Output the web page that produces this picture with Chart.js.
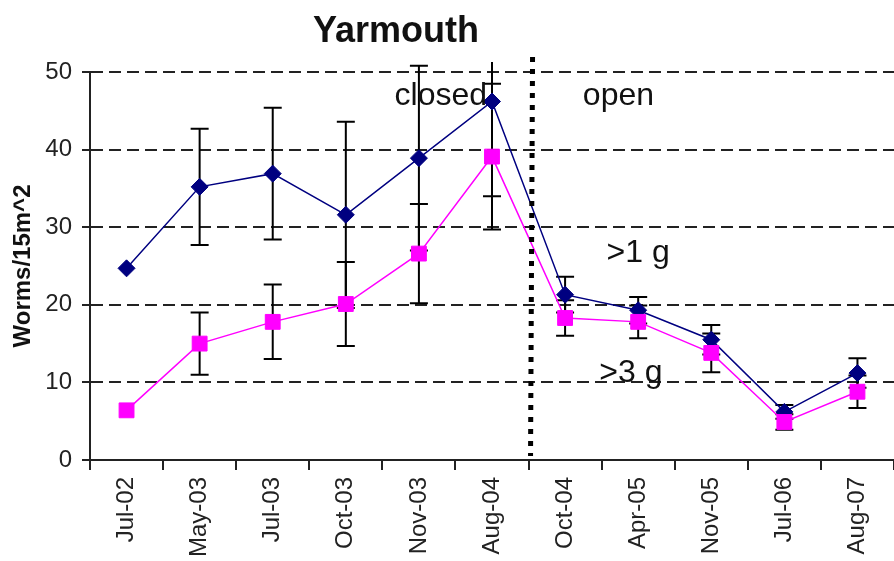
<!DOCTYPE html>
<html>
<head>
<meta charset="utf-8">
<script src="https://cdn.jsdelivr.net/npm/chart.js@4.4.0/dist/chart.umd.min.js"></script>
<style>
  body { margin: 0; background: #fff; }
  #wrap { width: 894px; height: 561px; position: relative; }
</style>
</head>
<body>
<div id="wrap"><canvas id="lineChart"></canvas></div>
<script>
const FONT = '"Liberation Sans", Arial, sans-serif';

const dates = ['Jul-02','May-03','Jul-03','Oct-03','Nov-03','Aug-04','Oct-04','Apr-05','Nov-05','Jul-06','Aug-07'];
const over1g = [24.7, 35.2, 36.9, 31.6, 38.9, 46.2, 21.3, 19.3, 15.5, 6.2, 11.2];
const over3g = [6.4, 15.0, 17.8, 20.1, 26.6, 39.1, 18.3, 17.8, 13.8, 4.9, 8.8];
// +/- error for each point (null = no bar)
const over1gErr = [null, 7.5, 8.5, 12.0, 11.9, 12.2, 2.3, 1.7, 1.9, 0.9, 1.9];
const over3gErr = [null, 4.0, 4.8, 5.4, 6.4, 9.4, 2.3, 2.1, 2.5, 1.0, 2.1];
const yTicks = [0, 10, 20, 30, 40, 50];

// in-plot notes: [text, category position, y value]
const notes = [
  ['closed', 4.3, 45.7],
  ['open', 6.73, 45.7],
  ['>1 g', 7.0, 25.5],
  ['>3 g', 6.9, 10.05]
];
const closedUntil = 5.5; // between Aug-04 and Oct-04

const errorBars = {
  id: 'errorBars',
  beforeDatasetsDraw(chart) {
    const {ctx, chartArea, scales: {x, y}} = chart;
    ctx.save();
    ctx.beginPath();
    ctx.rect(chartArea.left, chartArea.top - 10, chartArea.width, chartArea.height + 10);
    ctx.clip();
    ctx.strokeStyle = '#000';
    ctx.lineWidth = 2;
    [[over1g, over1gErr], [over3g, over3gErr]].forEach(([vals, errs]) => {
      vals.forEach((v, i) => {
        if (errs[i] == null) return;
        const px = x.getPixelForValue(i);
        const hi = y.getPixelForValue(v + errs[i]);
        const lo = y.getPixelForValue(v - errs[i]);
        ctx.beginPath();
        ctx.moveTo(px, hi); ctx.lineTo(px, lo);
        ctx.moveTo(px - 9, hi); ctx.lineTo(px + 9, hi);
        ctx.moveTo(px - 9, lo); ctx.lineTo(px + 9, lo);
        ctx.stroke();
      });
    });
    ctx.restore();
  }
};

const extras = {
  id: 'extras',
  afterDatasetsDraw(chart) {
    const {ctx, chartArea, scales: {x, y}} = chart;
    ctx.save();
    // closed / open divider
    const dx = x.getPixelForValue(closedUntil);
    ctx.strokeStyle = '#000';
    ctx.lineWidth = 5;
    ctx.setLineDash([5, 7]);
    ctx.beginPath();
    ctx.moveTo(dx + 4, chartArea.top - 15);
    ctx.lineTo(dx + 2, chartArea.bottom - 4);
    ctx.stroke();
    ctx.setLineDash([]);

    ctx.fillStyle = '#111';
    ctx.font = '32px ' + FONT;
    ctx.textAlign = 'center';
    ctx.textBaseline = 'alphabetic';
    notes.forEach(([t, xi, yv]) => {
      ctx.fillText(t, x.getPixelForValue(xi), y.getPixelForValue(yv));
    });

    ctx.font = 'bold 36px ' + FONT;
    ctx.fillText('Yarmouth', 396, 42);
    ctx.restore();
  }
};

new Chart(document.getElementById('lineChart'), {
  type: 'line',
  data: {
    labels: dates,
    datasets: [{
      label: '>3 g',
      data: over3g,
      borderColor: '#ff00ff',
      backgroundColor: '#ff00ff',
      borderWidth: 1.5,
      pointStyle: 'rect',
      pointRadius: 10.5,
      pointBorderWidth: 1,
      order: 0
    }, {
      label: '>1 g',
      data: over1g,
      borderColor: '#000080',
      backgroundColor: '#000080',
      borderWidth: 1.5,
      pointStyle: 'rectRot',
      pointRadius: 8.5,
      pointBorderWidth: 1,
      order: 1
    }]
  },
  options: {
    responsive: true,
    maintainAspectRatio: false,
    animation: false,
    layout: { autoPadding: false, padding: { top: 72, right: 0, left: 0, bottom: 0 } },
    plugins: {
      legend: { display: false },
      tooltip: { enabled: false }
    },
    scales: {
      x: {
        offset: true,
        grid: { offset: true, drawOnChartArea: false, tickLength: 10, color: '#222', lineWidth: 2 },
        border: { color: '#222', width: 2 },
        ticks: {
          minRotation: 90, maxRotation: 90, padding: 7, autoSkip: false,
          color: '#222', font: { family: FONT, size: 24 }
        },
        afterFit(scale) {
          scale.height = 101;
          scale.paddingLeft = 0;
          scale.paddingRight = 0;
        }
      },
      y: {
        min: 0, max: 50,
        afterBuildTicks(scale) { scale.ticks = yTicks.map(v => ({ value: v })); },
        grid: {
          color: '#222', lineWidth: 2, tickLength: 8, tickBorderDash: []
        },
        border: { color: '#222', width: 2, dash: [12, 6] },
        ticks: { padding: 10, color: '#222', font: { family: FONT, size: 24 } },
        title: {
          display: true, text: 'Worms/15m^2', color: '#111',
          font: { family: FONT, size: 24, weight: 'bold' },
          padding: { top: 9, bottom: 0 }
        },
        afterFit(scale) { scale.width = 90; }
      }
    }
  },
  plugins: [errorBars, extras]
});
</script>
</body>
</html>
